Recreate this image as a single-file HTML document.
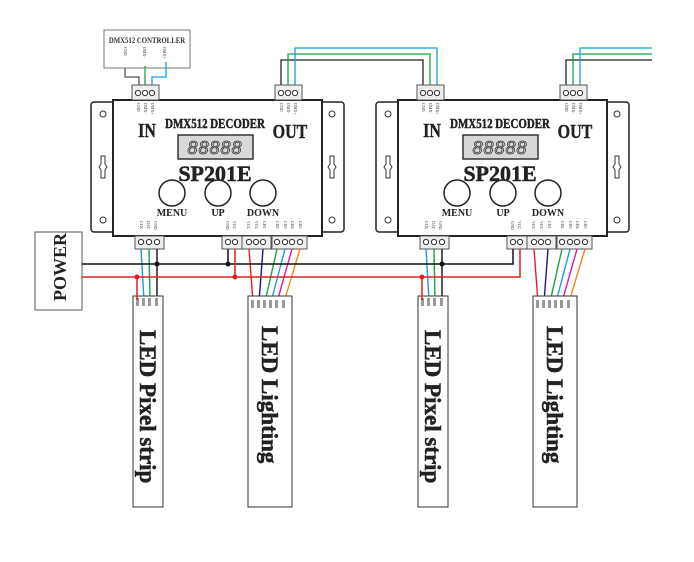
<!DOCTYPE html>
<html><head><meta charset="utf-8"><style>
html,body{margin:0;padding:0;background:#fff;}
svg{display:block;}
.s{font-family:"Liberation Serif",serif;font-weight:bold;fill:#222;}
.t{font-family:"Liberation Serif",serif;font-size:4px;fill:#333;}
</style></head><body>
<svg width="694" height="562" viewBox="0 0 694 562" xmlns="http://www.w3.org/2000/svg">
<defs>
<g id="dec">
  <rect x="91" y="102" width="24" height="130" rx="3" fill="#fff" stroke="#222" stroke-width="1.5"/>
  <rect x="320" y="102" width="24" height="130" rx="3" fill="#fff" stroke="#222" stroke-width="1.5"/>
  <circle cx="103" cy="114" r="3" fill="none" stroke="#333"/>
  <circle cx="103" cy="220" r="3" fill="none" stroke="#333"/>
  <circle cx="332" cy="114" r="3" fill="none" stroke="#333"/>
  <circle cx="332" cy="220" r="3" fill="none" stroke="#333"/>
  <path d="M101 156 h4 v8 l2 3 -2 3 v8 h-4 v-8 l-2 -3 2 -3z" fill="none" stroke="#333"/>
  <path d="M330 156 h4 v8 l2 3 -2 3 v8 h-4 v-8 l-2 -3 2 -3z" fill="none" stroke="#333"/>
  <rect x="113" y="100" width="209" height="136" fill="#fff" stroke="#222" stroke-width="2"/>
  <rect x="132" y="85" width="27" height="15" fill="#eee" stroke="#555"/>
  <circle cx="138" cy="93" r="2.6" fill="#fff" stroke="#333"/><circle cx="145" cy="93" r="2.6" fill="#fff" stroke="#333"/><circle cx="152" cy="93" r="2.6" fill="#fff" stroke="#333"/>
  <rect x="275" y="85" width="27" height="15" fill="#eee" stroke="#555"/>
  <circle cx="281" cy="93" r="2.6" fill="#fff" stroke="#333"/><circle cx="288" cy="93" r="2.6" fill="#fff" stroke="#333"/><circle cx="295" cy="93" r="2.6" fill="#fff" stroke="#333"/>
  <text class="t" transform="translate(137,103) rotate(90)">GND</text>
  <text class="t" transform="translate(144,103) rotate(90)">DMX-</text>
  <text class="t" transform="translate(151,103) rotate(90)">DMX+</text>
  <text class="t" transform="translate(280,103) rotate(90)">GND</text>
  <text class="t" transform="translate(287,103) rotate(90)">DMX-</text>
  <text class="t" transform="translate(294,103) rotate(90)">DMX+</text>
  <text class="s" x="147" y="137" font-size="20" text-anchor="middle" stroke="#222" stroke-width="0.4" transform="translate(147,137) scale(0.8,1) translate(-147,-137)">IN</text>
  <text class="s" x="290" y="138" font-size="20" text-anchor="middle" stroke="#222" stroke-width="0.4" transform="translate(290,138) scale(0.8,1) translate(-290,-138)">OUT</text>
  <text class="s" x="215" y="128" font-size="14" text-anchor="middle" stroke="#222" stroke-width="0.5" transform="translate(215,128) scale(0.78,1) translate(-215,-128)">DMX512 DECODER</text>
  <rect x="178" y="135" width="75" height="24" fill="#d8d8d8" stroke="#333" stroke-width="1.5"/>
  <text x="215" y="154" font-family="Liberation Sans,sans-serif" font-size="18" font-style="italic" fill="none" stroke="#333" stroke-width="0.8" text-anchor="middle" letter-spacing="1">88888</text>
  <text class="s" x="215" y="181" font-size="22" text-anchor="middle" stroke="#222" stroke-width="0.5">SP201E</text>
  <circle cx="172" cy="193" r="13" fill="#fff" stroke="#222" stroke-width="1.5"/>
  <circle cx="218" cy="193" r="13" fill="#fff" stroke="#222" stroke-width="1.5"/>
  <circle cx="263" cy="193" r="13" fill="#fff" stroke="#222" stroke-width="1.5"/>
  <text class="s" x="172" y="216" font-size="10" text-anchor="middle">MENU</text>
  <text class="s" x="218" y="216" font-size="10" text-anchor="middle">UP</text>
  <text class="s" x="263" y="216" font-size="10" text-anchor="middle">DOWN</text>
  <text class="t" transform="translate(140,221) rotate(90)">CLK</text>
  <text class="t" transform="translate(147,221) rotate(90)">DAT</text>
  <text class="t" transform="translate(154,221) rotate(90)">GND</text>
  <text class="t" transform="translate(226,221) rotate(90)">GND</text>
  <text class="t" transform="translate(233,221) rotate(90)">VCC</text>
  <text class="t" transform="translate(247,221) rotate(90)">VCC</text>
  <text class="t" transform="translate(255,221) rotate(90)">VCC</text>
  <text class="t" transform="translate(263,221) rotate(90)">CH1</text>
  <text class="t" transform="translate(276,221) rotate(90)">CH2</text>
  <text class="t" transform="translate(284,221) rotate(90)">CH3</text>
  <text class="t" transform="translate(291,221) rotate(90)">CH4</text>
  <text class="t" transform="translate(299,221) rotate(90)">CH5</text>
  <rect x="135" y="236" width="29" height="13" fill="#eee" stroke="#555"/>
  <circle cx="141" cy="242" r="2.6" fill="#fff" stroke="#333"/><circle cx="149" cy="242" r="2.6" fill="#fff" stroke="#333"/><circle cx="157" cy="242" r="2.6" fill="#fff" stroke="#333"/>
  <rect x="222" y="236" width="20" height="13" fill="#eee" stroke="#555"/>
  <circle cx="228" cy="242" r="2.6" fill="#fff" stroke="#333"/><circle cx="235" cy="242" r="2.6" fill="#fff" stroke="#333"/>
  <rect x="242" y="236" width="29" height="13" fill="#eee" stroke="#555"/>
  <circle cx="249" cy="242" r="2.6" fill="#fff" stroke="#333"/><circle cx="256" cy="242" r="2.6" fill="#fff" stroke="#333"/><circle cx="263" cy="242" r="2.6" fill="#fff" stroke="#333"/>
  <rect x="272" y="236" width="35" height="13" fill="#eee" stroke="#555"/>
  <circle cx="277" cy="242" r="2.6" fill="#fff" stroke="#333"/><circle cx="285" cy="242" r="2.6" fill="#fff" stroke="#333"/><circle cx="292" cy="242" r="2.6" fill="#fff" stroke="#333"/><circle cx="300" cy="242" r="2.6" fill="#fff" stroke="#333"/>
  <g fill="none" stroke-width="1.4">
    <line x1="141" y1="249" x2="144" y2="300" stroke="#1e9be0"/>
    <line x1="149" y1="249" x2="150" y2="300" stroke="#1aa04a"/>
    <line x1="157" y1="249" x2="157" y2="300" stroke="#111"/>
    <line x1="249" y1="249" x2="253" y2="302" stroke="#e02020"/>
    <line x1="263" y1="249" x2="259" y2="302" stroke="#1a1a80"/>
    <line x1="277" y1="249" x2="265" y2="302" stroke="#1aa04a"/>
    <line x1="285" y1="249" x2="271" y2="302" stroke="#1e9be0"/>
    <line x1="292" y1="249" x2="277" y2="302" stroke="#e01aa0"/>
    <line x1="300" y1="249" x2="284" y2="302" stroke="#f08a1a"/>
  </g>
  <rect x="133" y="296" width="30" height="211" fill="#fff" stroke="#333"/>
  <rect x="248" y="296" width="44" height="211" fill="#fff" stroke="#333"/>
  <g fill="#999"><rect x="136" y="298" width="3" height="8"/><rect x="142" y="298" width="3" height="8"/><rect x="148" y="298" width="3" height="8"/><rect x="155" y="298" width="3" height="8"/>
  <rect x="251" y="300" width="3" height="8"/><rect x="257" y="300" width="3" height="8"/><rect x="263" y="300" width="3" height="8"/><rect x="269" y="300" width="3" height="8"/><rect x="275" y="300" width="3" height="8"/><rect x="282" y="300" width="3" height="8"/></g>
  <text class="s" font-size="23" stroke="#222" stroke-width="0.5" transform="translate(140,330) rotate(90)">LED Pixel strip</text>
  <text class="s" font-size="23" stroke="#222" stroke-width="0.5" transform="translate(262,326) rotate(90)">LED Lighting</text>
</g>
</defs>

<rect x="104" y="30" width="86" height="38" fill="#fff" stroke="#777"/>
<text x="147" y="43" font-family="Liberation Serif,serif" font-size="8" font-weight="bold" text-anchor="middle" fill="#333" transform="translate(147,43) scale(0.85,1) translate(-147,-43)">DMX512 CONTROLLER</text>
<text class="t" font-size="5" transform="translate(124,47) rotate(90)">GND</text>
<text class="t" font-size="5" transform="translate(143,47) rotate(90)">DMX-</text>
<text class="t" font-size="5" transform="translate(163,47) rotate(90)">DMX+</text>
<g fill="none" stroke-width="1.3">
  <polyline points="125,68 125,77 139,77 139,87" stroke="#555"/>
  <polyline points="145,66 145,87" stroke="#1aa04a"/>
  <polyline points="166,62 166,77 152,77 152,87" stroke="#1e9be0"/>
  <polyline points="281,87 281,60 423,60 423,87" stroke="#222"/>
  <polyline points="288,87 288,54 430,54 430,87" stroke="#1aa04a"/>
  <polyline points="295,87 295,48 437,48 437,87" stroke="#1e9be0"/>
  <polyline points="566,87 566,60 652,60" stroke="#222"/>
  <polyline points="573,87 573,54 652,54" stroke="#1aa04a"/>
  <polyline points="580,87 580,48 652,48" stroke="#1e9be0"/>
</g>

<use href="#dec"/>
<use href="#dec" transform="translate(285,0)"/>

<rect x="35" y="232" width="47" height="78" fill="#fff" stroke="#555"/>
<text class="s" font-size="18" transform="translate(66,301) rotate(-90)">POWER</text>
<g fill="none" stroke-width="1.5">
  <polyline points="82,264 513,264 513,249" stroke="#111"/>
  <polyline points="82,277 520,277 520,249" stroke="#e02020"/>
  <line x1="228" y1="249" x2="228" y2="264" stroke="#111"/>
  <line x1="235" y1="249" x2="235" y2="277" stroke="#e02020"/>
  <line x1="137" y1="277" x2="137" y2="300" stroke="#e02020"/>
  <line x1="422" y1="277" x2="422" y2="300" stroke="#e02020"/>
</g>
<g>
  <circle cx="157" cy="264" r="2.5" fill="#111"/>
  <circle cx="442" cy="264" r="2.5" fill="#111"/>
  <circle cx="228" cy="264" r="2.5" fill="#111"/>
  <circle cx="137" cy="277" r="2.5" fill="#e02020"/>
  <circle cx="235" cy="277" r="2.5" fill="#e02020"/>
  <circle cx="422" cy="277" r="2.5" fill="#e02020"/>
</g>
</svg>
</body></html>
